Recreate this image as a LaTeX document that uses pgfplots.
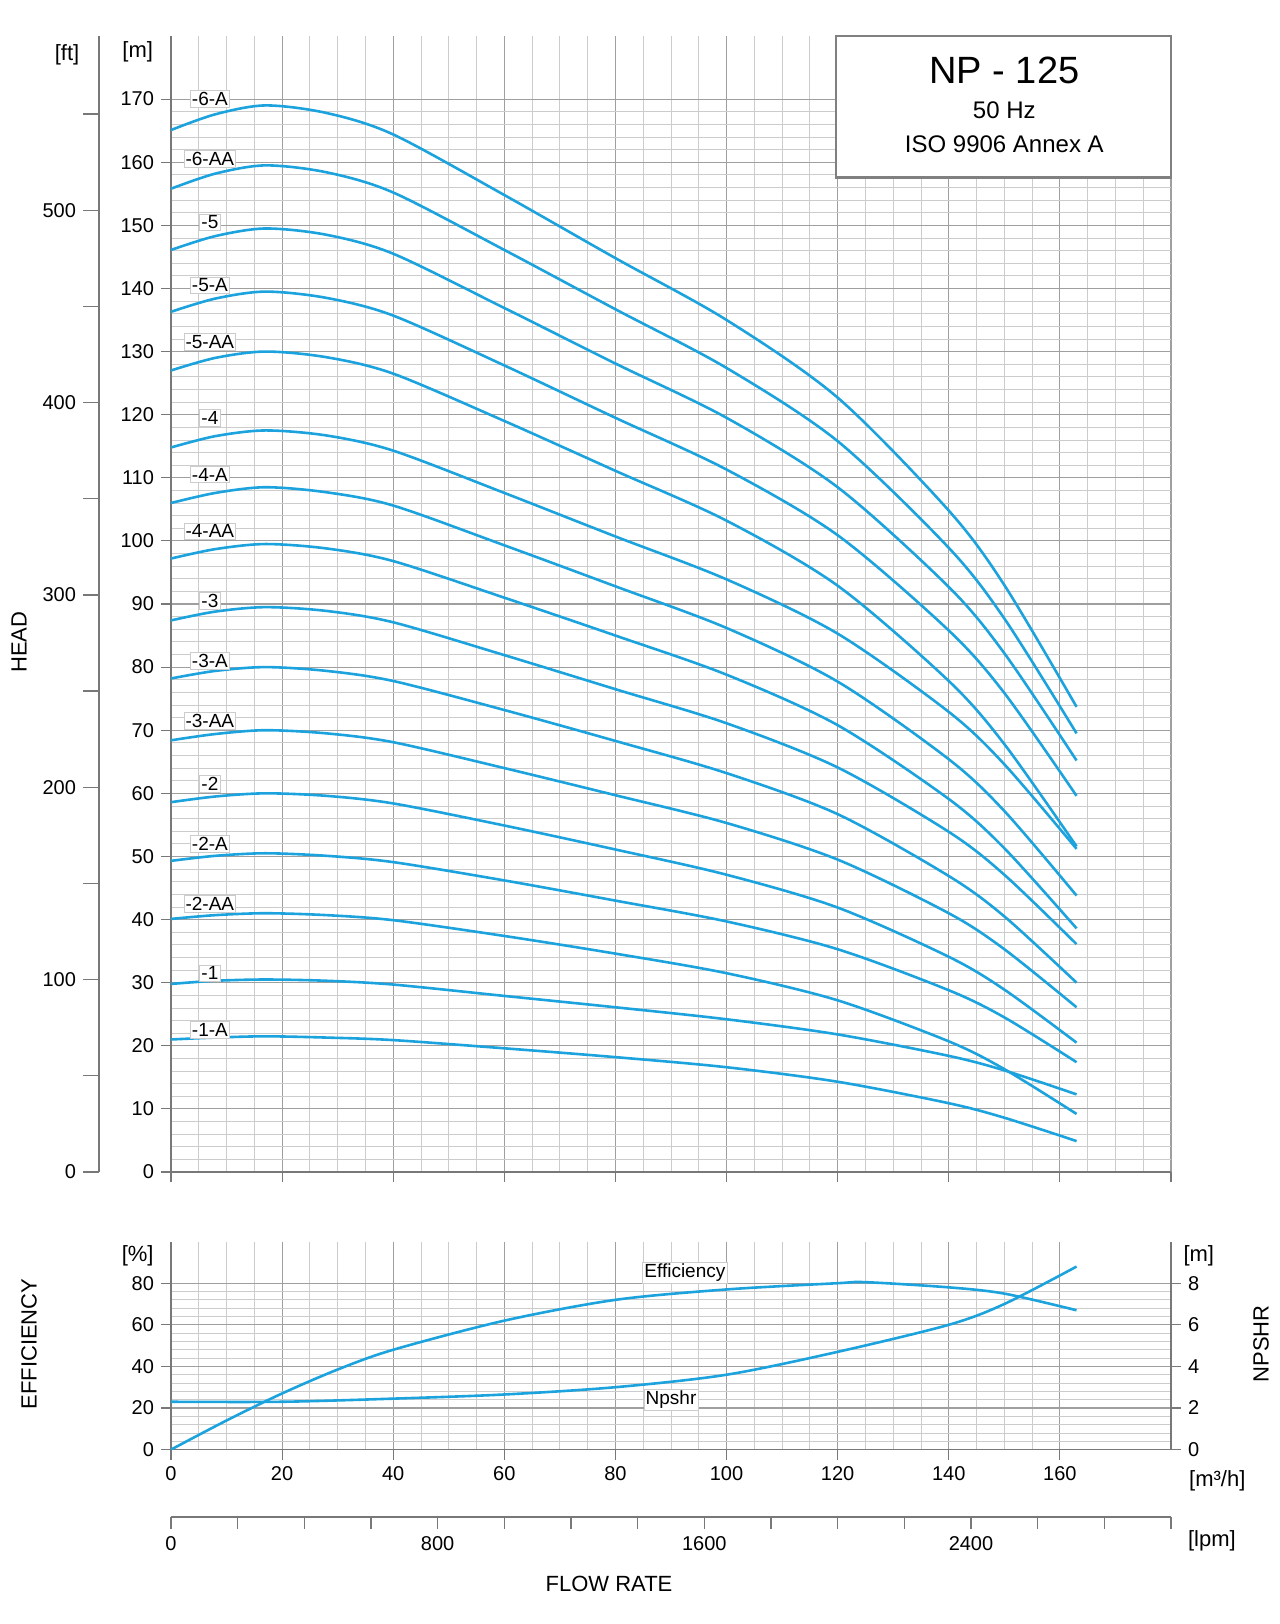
\documentclass[border=0pt]{standalone}
\usepackage{pgfplots}
\pgfplotsset{compat=1.18}
\usepackage{fontspec}
\setmainfont{Liberation Sans}
\definecolor{cur}{RGB}{28,163,222}
\definecolor{ax}{RGB}{120,120,120}
\begin{document}
\begin{tikzpicture}[font=\fontsize{10}{12}\selectfont]
\useasboundingbox (-85.5pt,-226pt) rectangle (554.5pt,586pt);
\pgfplotsset{every axis/.append style={scale only axis, axis line style={ax, line width=0.8pt},
  tick style={ax, line width=0.6pt}, /pgf/number format/assume math mode=true,
  /pgf/number format/set thousands separator={},
  tick label style={font=\fontsize{10}{12}\selectfont}},
  hc/.style={cur, line width=1.3pt, smooth, mark=none}}
% ---------- head chart
\begin{axis}[name=main, at={(0,0)}, anchor=south west, width=500pt, height=568pt,
  xmin=0,xmax=180,ymin=0,ymax=180, xtick={0,20,...,180}, xticklabels={},
  ytick={0,10,...,170}, minor x tick num=3, minor y tick num=4, grid=both,
  major grid style={gray!75, line width=0.6pt}, minor grid style={gray!40, line width=0.4pt},
  tick align=outside, major tick length=5pt, minor tick length=0pt,
  axis x line*=bottom, axis y line*=left, clip mode=individual]
\addplot[hc] coordinates {(0,165.1)(8,167.6)(17,169)(28,167.8)(40,164.4)(60,154.8)(80,144.8)(100,135.0)(120,122.7)(140,104.8)(150,93.0)(163,73.7)};
\addplot[hc] coordinates {(0,155.8)(8,158.2)(17,159.5)(28,158.4)(40,155.2)(60,146.1)(80,136.7)(100,127.4)(120,115.8)(140,98.9)(150,87.7)(163,69.5)};
\addplot[hc] coordinates {(0,146.1)(8,148.3)(17,149.5)(28,148.5)(40,145.5)(60,136.9)(80,128.1)(100,119.5)(120,108.5)(140,92.7)(150,82.2)(163,65.2)};
\addplot[hc] coordinates {(0,136.3)(8,138.4)(17,139.5)(28,138.5)(40,135.7)(60,127.8)(80,119.5)(100,111.3)(120,100.9)(140,85.8)(150,75.9)(163,59.6)};
\addplot[hc] coordinates {(0,127.0)(8,129.0)(17,130)(28,129.1)(40,126.5)(60,119.0)(80,111.1)(100,103.2)(120,92.9)(140,77.8)(150,67.8)(163,51.6)};
\addplot[hc] coordinates {(0,114.8)(8,116.6)(17,117.5)(28,116.7)(40,114.3)(60,107.6)(80,100.7)(100,93.9)(120,85.3)(140,72.9)(150,64.6)(163,51.2)};
\addplot[hc] coordinates {(0,106.0)(8,107.6)(17,108.5)(28,107.7)(40,105.6)(60,99.3)(80,92.8)(100,86.2)(120,77.7)(140,65.4)(150,57.2)(163,43.8)};
\addplot[hc] coordinates {(0,97.2)(8,98.7)(17,99.5)(28,98.8)(40,96.8)(60,91.0)(80,85.0)(100,78.8)(120,70.8)(140,59.1)(150,51.3)(163,38.6)};
\addplot[hc] coordinates {(0,87.4)(8,88.8)(17,89.5)(28,88.9)(40,87.1)(60,81.9)(80,76.5)(100,71.1)(120,64.1)(140,53.9)(150,47.1)(163,36.1)};
\addplot[hc] coordinates {(0,78.2)(8,79.4)(17,80)(28,79.4)(40,77.8)(60,73.2)(80,68.3)(100,63.2)(120,56.7)(140,46.9)(150,40.5)(163,30.0)};
\addplot[hc] coordinates {(0,68.4)(8,69.4)(17,70)(28,69.5)(40,68.1)(60,64.0)(80,59.7)(100,55.3)(120,49.5)(140,41.0)(150,35.3)(163,26.1)};
\addplot[hc] coordinates {(0,58.6)(8,59.5)(17,60)(28,59.6)(40,58.4)(60,54.9)(80,51.1)(100,47.1)(120,41.9)(140,34.1)(150,28.9)(163,20.5)};
\addplot[hc] coordinates {(0,49.3)(8,50.1)(17,50.5)(28,50.1)(40,49.1)(60,46.2)(80,43.0)(100,39.7)(120,35.3)(140,28.8)(150,24.5)(163,17.4)};
\addplot[hc] coordinates {(0,40.1)(8,40.7)(17,41)(28,40.7)(40,39.9)(60,37.4)(80,34.6)(100,31.5)(120,27.2)(140,20.7)(150,16.3)(163,9.2)};
\addplot[hc] coordinates {(0,29.8)(8,30.3)(17,30.5)(28,30.3)(40,29.7)(60,27.9)(80,26.1)(100,24.2)(120,21.8)(140,18.4)(150,16.1)(163,12.3)};
\addplot[hc] coordinates {(0,21.0)(8,21.3)(17,21.5)(28,21.3)(40,20.9)(60,19.6)(80,18.2)(100,16.6)(120,14.3)(140,10.9)(150,8.6)(163,4.9)};
\tikzset{lab/.style={fill=white, draw=gray!40, inner sep=0.8pt, font=\fontsize{9.5}{11}\selectfont}}
\node[lab] at (axis cs:7,170) {-6-A};
\node[lab] at (axis cs:7,160.5) {-6-AA};
\node[lab] at (axis cs:7,150.5) {-5};
\node[lab] at (axis cs:7,140.5) {-5-A};
\node[lab] at (axis cs:7,131.5) {-5-AA};
\node[lab] at (axis cs:7,119.5) {-4};
\node[lab] at (axis cs:7,110.5) {-4-A};
\node[lab] at (axis cs:7,101.5) {-4-AA};
\node[lab] at (axis cs:7,90.5) {-3};
\node[lab] at (axis cs:7,81) {-3-A};
\node[lab] at (axis cs:7,71.5) {-3-AA};
\node[lab] at (axis cs:7,61.5) {-2};
\node[lab] at (axis cs:7,52) {-2-A};
\node[lab] at (axis cs:7,42.5) {-2-AA};
\node[lab] at (axis cs:7,31.5) {-1};
\node[lab] at (axis cs:7,22.5) {-1-A};
\draw[gray, line width=1.2pt, fill=white] (axis cs:119.7,180) rectangle (axis cs:180,157.6);
\node[font=\fontsize{19}{22}\selectfont] at (axis cs:150,174.5) {NP - 125};
\node[font=\fontsize{12}{14}\selectfont] at (axis cs:150,168.3) {50 Hz};
\node[font=\fontsize{12}{14}\selectfont] at (axis cs:150,162.8) {ISO 9906 Annex A};
\node[font=\fontsize{11}{13}\selectfont] at (axis cs:-6,177.5) {[m]};
\end{axis}
% ---------- ft axis
\begin{axis}[at={(-36pt,0)}, anchor=south west, width=1pt, height=568pt,
  xmin=0,xmax=1, ymin=0, ymax=590.55, axis y line*=left, axis x line=none,
  ytick={0,100,...,500}, minor ytick={50,150,...,550}, tick align=outside,
  major tick length=8pt, minor tick length=8pt, clip=false]
\addplot[draw=none] coordinates {(0,0)};
\node[font=\fontsize{11}{13}\selectfont] at (axis cs:0,581) [xshift=-16pt] {[ft]};
\end{axis}
\node[rotate=90, font=\fontsize{11}{13}\selectfont] at (-76pt,265pt) {HEAD};
% ---------- efficiency / npshr
\begin{axis}[at={(0,-138.8pt)}, anchor=south west, width=500pt, height=104pt,
  xmin=0,xmax=180,ymin=0,ymax=100, xtick={0,20,...,160}, ytick={0,20,...,80},
  minor x tick num=3, minor y tick num=4, grid=both,
  major grid style={gray!75, line width=0.6pt}, minor grid style={gray!40, line width=0.4pt},
  tick align=outside, major tick length=5pt, minor tick length=0pt,
  axis x line*=bottom, axis y line*=left, clip mode=individual]
\addplot[hc] coordinates {(0,0)(10,14)(20,27)(30,38.5)(40,48)(60,62)(80,72)(100,77)(120,80)(125,80.5)(140,78)(150,75)(163,67)};
\node[fill=white, draw=gray!40, inner sep=0.8pt, font=\fontsize{9.5}{11}\selectfont] at (axis cs:92.5,85) {Efficiency};
\node[fill=white, draw=gray!40, inner sep=0.8pt, font=\fontsize{9.5}{11}\selectfont] at (axis cs:90,24) {Npshr};
\node[font=\fontsize{11}{13}\selectfont] at (axis cs:-6,93) {[\%]};
\node[font=\fontsize{11}{13}\selectfont, anchor=west] at (axis cs:182,-15) {[m³/h]};
\end{axis}
\begin{axis}[at={(0,-138.8pt)}, anchor=south west, width=500pt, height=104pt,
  xmin=0,xmax=180,ymin=0,ymax=10, ytick={0,2,...,8}, axis y line*=right, axis x line=none,
  tick align=outside, major tick length=5pt, clip mode=individual]
\addplot[hc] coordinates {(0,2.3)(20,2.3)(40,2.45)(60,2.65)(80,3.0)(100,3.6)(120,4.7)(140,6.0)(150,7.0)(163,8.8)};
\node[font=\fontsize{11}{13}\selectfont] at (axis cs:185,9.3) {[m]};
\end{axis}
\node[rotate=90, font=\fontsize{11}{13}\selectfont] at (-71pt,-86pt) {EFFICIENCY};
\node[rotate=90, font=\fontsize{11}{13}\selectfont] at (545pt,-86pt) {NPSHR};
% ---------- lpm axis
\begin{axis}[at={(0,-172.5pt)}, anchor=south west, width=500pt, height=1pt,
  xmin=0,xmax=3000,ymin=0,ymax=1, axis x line*=bottom, axis y line=none,
  xtick={0,800,1600,2400}, minor xtick={200,400,...,3000}, tick align=inside,
  x tick style={yshift=-6pt}, major tick length=6pt, minor tick length=6pt, clip=false,
  xticklabel style={yshift=-6pt}]
\addplot[draw=none] coordinates {(0,0)};
\node[font=\fontsize{11}{13}\selectfont, anchor=west] at (axis cs:3030,0) [yshift=-12pt] {[lpm]};
\end{axis}
\node[font=\fontsize{11}{13}\selectfont] at (219pt,-206pt) {FLOW RATE};
\end{tikzpicture}
\end{document}
